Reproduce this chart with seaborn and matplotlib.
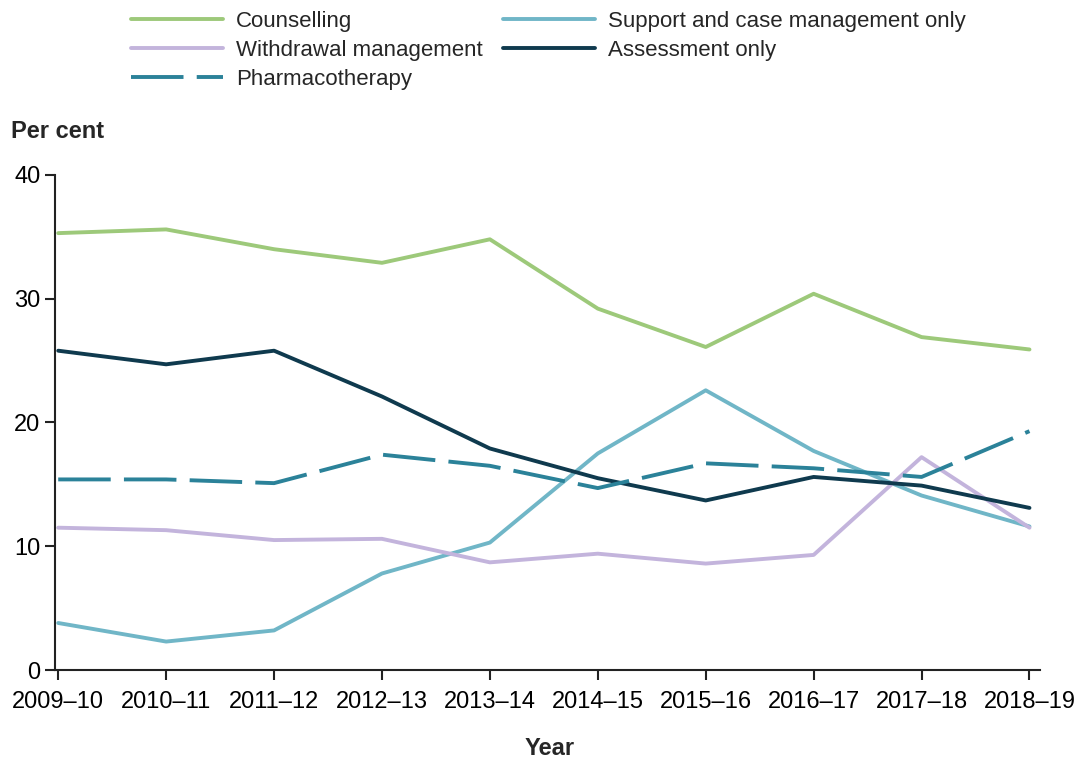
import pandas as pd
import matplotlib
matplotlib.use("Agg")
import matplotlib.pyplot as plt
import seaborn as sns

# Data
years = ["2009–10", "2010–11", "2011–12", "2012–13", "2013–14",
         "2014–15", "2015–16", "2016–17", "2017–18", "2018–19"]
counselling = [35.3, 35.6, 34.0, 32.9, 34.8, 29.2, 26.1, 30.4, 26.9, 25.9]
support_case = [3.8, 2.3, 3.2, 7.8, 10.3, 17.5, 22.6, 17.7, 14.1, 11.6]
withdrawal = [11.5, 11.3, 10.5, 10.6, 8.7, 9.4, 8.6, 9.3, 17.2, 11.5]
assessment = [25.8, 24.7, 25.8, 22.1, 17.9, 15.5, 13.7, 15.6, 14.9, 13.1]
pharmacotherapy = [15.4, 15.4, 15.1, 17.4, 16.5, 14.7, 16.7, 16.3, 15.6, 19.3]

series = [
    ("Counselling", counselling, "#9dc97a", None),
    ("Withdrawal management", withdrawal, "#c3b4dc", None),
    ("Pharmacotherapy", pharmacotherapy, "#2b8299", (13.5, 3.4)),
    ("Support and case management only", support_case, "#70b6c7", None),
    ("Assessment only", assessment, "#0f3a4e", None),
]

sns.set_style("ticks")
plt.rcParams["font.family"] = ["Liberation Sans", "DejaVu Sans"]

fig = plt.figure(figsize=(10.78, 7.62), dpi=100)
ax = fig.add_axes([0.051, 0.1207, 0.914, 0.6497])

# draw order: pharmacotherapy on top like the reference
draw_order = [0, 3, 1, 4, 2]
handles = {}
for i in draw_order:
    name, vals, color, dash = series[i]
    df = pd.DataFrame({"x": range(len(years)), "y": vals})
    sns.lineplot(data=df, x="x", y="y", ax=ax, color=color, linewidth=2.8,
                 label=name)
    line = ax.get_lines()[-1]
    if dash is not None:
        line.set_dashes(dash)
    handles[name] = line

ax.legend_.remove()

ax.set_xlim(-0.03, 9.1)
ax.set_ylim(0, 40)
ax.set_xticks(range(len(years)))
ax.set_xticklabels(years)
ax.set_yticks([0, 10, 20, 30, 40])
ax.tick_params(axis="both", labelsize=17, length=7, width=1.5, colors="#222222",
               labelcolor="black", direction="out")
ax.tick_params(axis="x", pad=8)
for s in ["top", "right"]:
    ax.spines[s].set_visible(False)
for s in ["left", "bottom"]:
    ax.spines[s].set_linewidth(1.5)
    ax.spines[s].set_color("#222222")
ax.set_xlabel("")
ax.set_ylabel("")

fig.text(0.010, 0.828, "Per cent", fontsize=17, fontweight="bold", va="center")
fig.text(0.510, 0.003, "Year", fontsize=17, fontweight="bold", ha="center", va="bottom")

order = [s[0] for s in series]
fig.legend([handles[n] for n in order], order, ncol=2, loc="upper left",
           bbox_to_anchor=(0.103, 1.012), frameon=False, fontsize=16,
           handlelength=4.15, handletextpad=0.58, columnspacing=0.9,
           labelspacing=0.36)

fig.savefig("out.png", dpi=100)
